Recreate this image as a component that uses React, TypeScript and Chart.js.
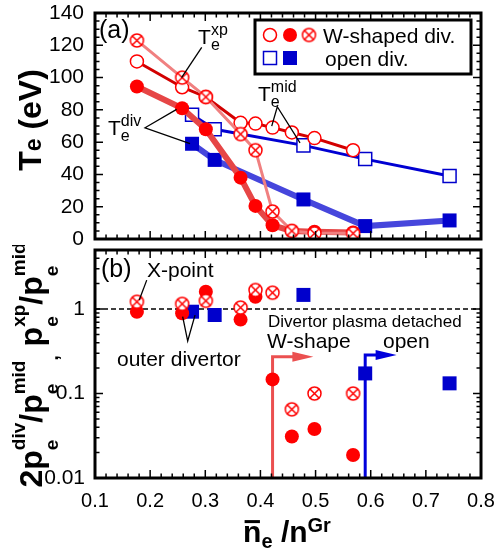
import React, { useEffect, useRef } from 'react';
import { Chart, registerables } from 'chart.js';

Chart.register(...registerables);

// ---------------- data ----------------
const densityW = [0.176, 0.258, 0.301, 0.364, 0.391, 0.422, 0.457, 0.498, 0.568];
const densityOpen = [0.276, 0.317, 0.478, 0.59, 0.743];

const teXpW = [123, 100, 88, 65, 55, 17, 5, 3.5, 3.5];
const teMidW = [110, 94, 88, 72, 71.5, 69, 66, 62.5, 55];
const teDivW = [94.5, 81, 68, 38, 20.5, 8.5, 5, 4.5, 4];
const teMidOpen = [77, 68, 58, 49.5, 39];
const teDivOpen = [59, 49, 24.5, 8, 11.5];

const ratioXpW = [1.22, 1.15, 1.25, 1.04, 1.68, 1.56, 0.065, 0.1, 0.1];
const ratioDivW = [0.93, 0.89, 1.6, 0.75, 1.4, 0.147, 0.031, 0.038, 0.0187];
const ratioDivOpen = [0.93, 0.85, 1.47, 0.173, 0.132];

const xTicks = [0.1, 0.2, 0.3, 0.4, 0.5, 0.6, 0.7, 0.8];
const teTicks = [0, 20, 40, 60, 80, 100, 120, 140];
const ratioTicks = [0.01, 0.1, 1];

const detachW = 0.422;
const detachOpen = 0.59;

// ---------------- helpers ----------------
const FONT = '"Liberation Sans", Arial, Helvetica, sans-serif';
const RED = '#ff0000';
const BLUE = '#0000cc';

const pts = (xs: number[], ys: number[]) => xs.map((x, i) => ({ x, y: ys[i] }));

function makeCrossed(r: number, color: string): HTMLCanvasElement {
  const s = Math.ceil(r * 2 + 4);
  const c = document.createElement('canvas');
  c.width = s;
  c.height = s;
  const g = c.getContext('2d')!;
  const m = s / 2;
  g.fillStyle = '#fff';
  g.strokeStyle = color;
  g.lineWidth = 1.5;
  g.beginPath();
  g.arc(m, m, r, 0, Math.PI * 2);
  g.fill();
  g.stroke();
  const d = r * 0.7;
  g.beginPath();
  g.moveTo(m - d, m - d);
  g.lineTo(m + d, m + d);
  g.moveTo(m + d, m - d);
  g.lineTo(m - d, m + d);
  g.stroke();
  return c;
}

type Part = { t: string; sub?: string; sup?: string; bar?: boolean };
type RichOpt = {
  weight?: string;
  size: number;
  ssize: number;
  subDy: number;
  supDy: number;
  align?: 'left' | 'center';
  rotate?: boolean;
};

function drawRich(ctx: CanvasRenderingContext2D, parts: Part[], x: number, y: number, o: RichOpt) {
  const w = o.weight ? o.weight + ' ' : '';
  const mf = `${w}${o.size}px ${FONT}`;
  const sf = `${w}${o.ssize}px ${FONT}`;
  ctx.save();
  ctx.translate(x, y);
  if (o.rotate) ctx.rotate(-Math.PI / 2);
  ctx.textAlign = 'left';
  ctx.textBaseline = 'alphabetic';
  ctx.fillStyle = '#000';
  const widths: [number, number][] = [];
  let total = 0;
  for (const p of parts) {
    ctx.font = mf;
    const w1 = ctx.measureText(p.t).width;
    ctx.font = sf;
    const w2 = Math.max(p.sub ? ctx.measureText(p.sub).width : 0, p.sup ? ctx.measureText(p.sup).width : 0);
    widths.push([w1, w2]);
    total += w1 + w2;
  }
  let cx = o.align === 'center' ? -total / 2 : 0;
  parts.forEach((p, i) => {
    const [w1, w2] = widths[i];
    ctx.font = mf;
    ctx.fillText(p.t, cx, 0);
    if (p.bar) ctx.fillRect(cx + 1.5, -o.size * 0.72, w1 - 3, 3);
    cx += w1;
    ctx.font = sf;
    if (p.sub) ctx.fillText(p.sub, cx, o.subDy);
    if (p.sup) ctx.fillText(p.sup, cx, o.supDy);
    cx += w2;
  });
  ctx.restore();
}

function drawText(ctx: CanvasRenderingContext2D, text: string, x: number, y: number, size: number, weight = '') {
  ctx.save();
  ctx.font = `${weight ? weight + ' ' : ''}${size}px ${FONT}`;
  ctx.fillStyle = '#000';
  ctx.textAlign = 'left';
  ctx.textBaseline = 'alphabetic';
  ctx.fillText(text, x, y);
  ctx.restore();
}

function polyline(ctx: CanvasRenderingContext2D, p: [number, number][], color = '#000', width = 1.3) {
  ctx.save();
  ctx.strokeStyle = color;
  ctx.lineWidth = width;
  ctx.beginPath();
  p.forEach(([x, y], i) => (i ? ctx.lineTo(x, y) : ctx.moveTo(x, y)));
  ctx.stroke();
  ctx.restore();
}

function drawFrame(
  ctx: CanvasRenderingContext2D,
  a: any,
  xMaj: number[],
  xMin: number[],
  yMaj: number[],
  yMin: number[]
) {
  ctx.save();
  ctx.strokeStyle = '#000';
  ctx.lineWidth = 1.5;
  ctx.beginPath();
  const vt = (p: number, len: number) => {
    ctx.moveTo(p, a.bottom);
    ctx.lineTo(p, a.bottom - len);
    ctx.moveTo(p, a.top);
    ctx.lineTo(p, a.top + len);
  };
  const ht = (p: number, len: number) => {
    ctx.moveTo(a.left, p);
    ctx.lineTo(a.left + len, p);
    ctx.moveTo(a.right, p);
    ctx.lineTo(a.right - len, p);
  };
  xMaj.forEach((p) => vt(p, 8));
  xMin.forEach((p) => vt(p, 4.5));
  yMaj.forEach((p) => ht(p, 8));
  yMin.forEach((p) => ht(p, 4.5));
  ctx.stroke();
  ctx.lineWidth = 3;
  ctx.strokeRect(a.left, a.top, a.right - a.left, a.bottom - a.top);
  ctx.restore();
}

const xMinorVals: number[] = [];
for (let i = 5; i <= 40; i++) xMinorVals.push(i * 0.02);
const teMinorVals: number[] = [];
for (let i = 0; i <= 28; i++) teMinorVals.push(i * 5);
const logMinorVals: number[] = [];
for (const d of [0.01, 0.1, 1]) for (let k = 2; k <= 9; k++) if (d * k <= 5) logMinorVals.push(d * k);

function drawOpenCircle(ctx: CanvasRenderingContext2D, x: number, y: number) {
  ctx.save();
  ctx.beginPath();
  ctx.arc(x, y, 6.5, 0, Math.PI * 2);
  ctx.fillStyle = '#fff';
  ctx.fill();
  ctx.lineWidth = 1.5;
  ctx.strokeStyle = RED;
  ctx.stroke();
  ctx.restore();
}

// ---------------- plugins ----------------
const crossedImg = () => makeCrossed(6.5, RED);

const topDecor = {
  id: 'topDecor',
  afterDatasetsDraw(chart: any) {
    const { ctx, chartArea: a, scales } = chart;
    const X = (v: number) => scales.x.getPixelForValue(v);
    const Y = (v: number) => scales.y.getPixelForValue(v);
    drawFrame(ctx, a, xTicks.map(X), xMinorVals.map(X), teTicks.map(Y), teMinorVals.map(Y));

    // panel label
    drawText(ctx, '(a)', a.left + 4, a.top + 25, 25);

    // callouts
    const rich = { size: 21, ssize: 16, subDy: 6, supDy: -9 };
    drawRich(ctx, [{ t: 'T', sub: 'e', sup: 'xp' }], X(0.287), Y(120.7), rich);
    polyline(ctx, [[X(0.2935), Y(118.7)], [X(0.257), Y(100)]]);

    drawRich(ctx, [{ t: 'T', sub: 'e', sup: 'div' }], X(0.1236), Y(64.7), rich);
    polyline(ctx, [[X(0.248), Y(80.3)], [X(0.1907), Y(68.9)], [X(0.2723), Y(59.1)]]);

    drawRich(ctx, [{ t: 'T', sub: 'e', sup: 'mid' }], X(0.3956), Y(85.25), rich);
    polyline(ctx, [[X(0.4205), Y(69.9)], [X(0.4306), Y(81.95)], [X(0.4718), Y(59.5)]]);

    // y title
    drawRich(ctx, [{ t: 'T', sub: 'e' }, { t: ' (eV)' }], 41, 120, {
      weight: 'bold',
      size: 32,
      ssize: 23,
      subDy: 0,
      supDy: 0,
      align: 'center',
      rotate: true,
    });

    // legend
    const bl = a.right - 226;
    const bt = a.top + 7;
    const bw = 216;
    const bh = 54;
    ctx.save();
    ctx.fillStyle = '#fff';
    ctx.fillRect(bl, bt, bw, bh);
    ctx.lineWidth = 3;
    ctx.strokeStyle = '#000';
    ctx.strokeRect(bl, bt, bw, bh);
    const r1 = bt + 15;
    const r2 = bt + 38;
    drawOpenCircle(ctx, bl + 15, r1);
    ctx.beginPath();
    ctx.arc(bl + 35, r1, 7, 0, Math.PI * 2);
    ctx.fillStyle = RED;
    ctx.fill();
    const ci = crossedImg();
    ctx.drawImage(ci, bl + 54 - ci.width / 2, r1 - ci.height / 2);
    ctx.fillStyle = '#fff';
    ctx.fillRect(bl + 15 - 6.5, r2 - 6.5, 13, 13);
    ctx.lineWidth = 1.5;
    ctx.strokeStyle = BLUE;
    ctx.strokeRect(bl + 15 - 6.5, r2 - 6.5, 13, 13);
    ctx.fillStyle = BLUE;
    ctx.fillRect(bl + 35 - 7, r2 - 7, 14, 14);
    ctx.restore();
    drawText(ctx, 'W-shaped div.', bl + 68, r1 + 8, 21);
    drawText(ctx, 'open div.', bl + 70, r2 + 8, 21);
  },
};

const botUnder = {
  id: 'botUnder',
  beforeDatasetsDraw(chart: any) {
    const { ctx, chartArea: a, scales } = chart;
    const X = (v: number) => scales.x.getPixelForValue(v);
    const Y = (v: number) => scales.y.getPixelForValue(v);
    // dashed line at 1
    ctx.save();
    ctx.setLineDash([5, 3]);
    ctx.lineWidth = 1.5;
    ctx.strokeStyle = '#000';
    ctx.beginPath();
    ctx.moveTo(a.left, Y(1));
    ctx.lineTo(a.right, Y(1));
    ctx.stroke();
    ctx.restore();

    const arrow = (xv: number, yv: number, tipX: number, color: string) => {
      const x0 = X(xv);
      const y0 = Y(yv);
      const tx = X(tipX);
      const hl = 21;
      ctx.save();
      ctx.strokeStyle = color;
      ctx.fillStyle = color;
      ctx.lineWidth = 3;
      ctx.lineJoin = 'miter';
      ctx.beginPath();
      ctx.moveTo(x0, a.bottom);
      ctx.lineTo(x0, y0);
      ctx.lineTo(tx - hl + 1, y0);
      ctx.stroke();
      ctx.beginPath();
      ctx.moveTo(tx, y0);
      ctx.lineTo(tx - hl, y0 - 5);
      ctx.lineTo(tx - hl, y0 + 5);
      ctx.closePath();
      ctx.fill();
      ctx.restore();
    };
    arrow(detachW, 0.273, 0.496, 'rgb(235,80,80)');
    arrow(detachOpen, 0.285, 0.647, 'rgb(0,0,220)');
  },
};

const botDecor = {
  id: 'botDecor',
  afterDatasetsDraw(chart: any) {
    const { ctx, chartArea: a, scales } = chart;
    const X = (v: number) => scales.x.getPixelForValue(v);
    const Y = (v: number) => scales.y.getPixelForValue(v);
    drawFrame(ctx, a, xTicks.map(X), xMinorVals.map(X), ratioTicks.map(Y), logMinorVals.map(Y));

    drawText(ctx, '(b)', a.left + 6, a.top + 27, 25);
    drawText(ctx, 'X-point', X(0.1943), Y(2.39), 21);
    polyline(ctx, [[X(0.1938), Y(2.2)], [X(0.1803), Y(1.278)]]);
    drawText(ctx, 'outer divertor', X(0.1399), Y(0.211), 21);
    polyline(ctx, [[X(0.259), Y(0.811)], [X(0.2681), Y(0.418)], [X(0.2814), Y(0.849)]]);
    drawText(ctx, 'Divertor plasma detached', X(0.4137), Y(0.612), 17);
    drawText(ctx, 'W-shape', X(0.412), Y(0.345), 21);
    drawText(ctx, 'open', X(0.6223), Y(0.345), 21);

    // y title
    drawRich(
      ctx,
      [
        { t: '2p', sub: 'e', sup: 'div' },
        { t: '/p', sub: 'e', sup: 'mid' },
        { t: '', sub: ',' },
        { t: ' p', sub: 'e', sup: 'xp' },
        { t: '/p', sub: 'e', sup: 'mid' },
      ],
      42,
      120,
      { weight: 'bold', size: 32, ssize: 19, subDy: 16, supDy: -17, align: 'center', rotate: true }
    );

    // x title
    drawRich(
      ctx,
      [
        { t: 'n', sub: 'e', bar: true },
        { t: ' /n', sup: 'Gr' },
      ],
      (a.left + a.right) / 2 - 1,
      296.7,
      { weight: 'bold', size: 30, ssize: 20, subDy: 6, supDy: -10, align: 'center' }
    );
  },
};

// ---------------- configs ----------------
function topConfig(): any {
  const cross = crossedImg();
  return {
    type: 'scatter',
    data: {
      datasets: [
        {
          data: pts(densityOpen, teDivOpen),
          showLine: true,
          borderColor: 'rgb(70,70,220)',
          borderWidth: 6,
          pointStyle: 'rect',
          pointRadius: 9.9,
          pointBackgroundColor: BLUE,
          pointBorderColor: BLUE,
          pointBorderWidth: 0,
          order: 5,
        },
        {
          data: pts(densityOpen, teMidOpen),
          showLine: true,
          borderColor: 'rgb(0,0,210)',
          borderWidth: 3,
          pointStyle: 'rect',
          pointRadius: 9.2,
          pointBackgroundColor: '#fff',
          pointBorderColor: BLUE,
          pointBorderWidth: 1.5,
          order: 4,
        },
        {
          data: pts(densityW, teDivW),
          showLine: true,
          borderColor: 'rgb(230,70,70)',
          borderWidth: 6,
          pointStyle: 'circle',
          pointRadius: 7,
          pointBackgroundColor: RED,
          pointBorderColor: RED,
          pointBorderWidth: 0,
          order: 3,
        },
        {
          data: pts(densityW, teMidW),
          showLine: true,
          borderColor: 'rgb(210,0,0)',
          borderWidth: 3,
          pointStyle: 'circle',
          pointRadius: 6.5,
          pointBackgroundColor: '#fff',
          pointBorderColor: RED,
          pointBorderWidth: 1.5,
          order: 2,
        },
        {
          data: pts(densityW, teXpW),
          showLine: true,
          borderColor: 'rgb(240,128,128)',
          borderWidth: 3,
          pointStyle: cross,
          pointRadius: 7,
          order: 1,
        },
      ],
    },
    options: {
      responsive: false,
      animation: false,
      devicePixelRatio: 1,
      events: [],
      layout: { autoPadding: false, padding: { left: 0, right: 16, top: 13, bottom: 6 } },
      plugins: { legend: { display: false }, tooltip: { enabled: false } },
      scales: {
        x: { type: 'linear', min: 0.1, max: 0.8, display: false },
        y: {
          type: 'linear',
          min: 0,
          max: 140,
          afterBuildTicks: (s: any) => {
            s.ticks = teTicks.map((v) => ({ value: v }));
          },
          grid: { display: false, drawTicks: false },
          border: { display: false },
          ticks: { color: '#000', font: { family: FONT, size: 21 }, padding: 11 },
          afterFit: (s: any) => {
            s.width = 95;
            s.paddingTop = 0;
            s.paddingBottom = 0;
          },
        },
      },
    },
    plugins: [topDecor],
  };
}

function botConfig(): any {
  const cross = crossedImg();
  return {
    type: 'scatter',
    data: {
      datasets: [
        {
          data: pts(densityOpen, ratioDivOpen),
          pointStyle: 'rect',
          pointRadius: 9.9,
          pointBackgroundColor: BLUE,
          pointBorderColor: BLUE,
          pointBorderWidth: 0,
          order: 3,
        },
        {
          data: pts(densityW, ratioDivW),
          pointStyle: 'circle',
          pointRadius: 7,
          pointBackgroundColor: RED,
          pointBorderColor: RED,
          pointBorderWidth: 0,
          order: 2,
        },
        {
          data: pts(densityW, ratioXpW),
          pointStyle: cross,
          pointRadius: 7,
          order: 1,
        },
      ],
    },
    options: {
      responsive: false,
      animation: false,
      devicePixelRatio: 1,
      events: [],
      layout: { autoPadding: false, padding: { left: 0, right: 16, top: 5, bottom: 0 } },
      plugins: { legend: { display: false }, tooltip: { enabled: false } },
      scales: {
        x: {
          type: 'linear',
          min: 0.1,
          max: 0.8,
          afterBuildTicks: (s: any) => {
            s.ticks = xTicks.map((v) => ({ value: v }));
          },
          grid: { display: false, drawTicks: false },
          border: { display: false },
          ticks: {
            color: '#000',
            font: { family: FONT, size: 20 },
            padding: 11,
            maxRotation: 0,
            autoSkip: false,
            callback: (v: any) => Number(v).toFixed(1),
          },
          afterFit: (s: any) => {
            s.height = 71;
            s.paddingLeft = 0;
            s.paddingRight = 0;
          },
        },
        y: {
          type: 'logarithmic',
          min: 0.01,
          max: 5,
          afterBuildTicks: (s: any) => {
            s.ticks = ratioTicks.map((v) => ({ value: v }));
          },
          grid: { display: false, drawTicks: false },
          border: { display: false },
          ticks: {
            color: '#000',
            font: { family: FONT, size: 21 },
            padding: 10,
            autoSkip: false,
            callback: (v: any) => String(v),
          },
          afterFit: (s: any) => {
            s.width = 95;
            s.paddingTop = 0;
            s.paddingBottom = 0;
          },
        },
      },
    },
    plugins: [botUnder, botDecor],
  };
}

export default function App() {
  const topRef = useRef<HTMLCanvasElement>(null);
  const botRef = useRef<HTMLCanvasElement>(null);
  useEffect(() => {
    const c1 = new Chart(topRef.current!, topConfig());
    const c2 = new Chart(botRef.current!, botConfig());
    return () => {
      c1.destroy();
      c2.destroy();
    };
  }, []);
  return (
    <div style={{ position: 'absolute', left: 0, top: 0, width: 497, height: 549, background: '#fff' }}>
      <canvas
        ref={topRef}
        width={497}
        height={245}
        style={{ position: 'absolute', left: 0, top: 0, width: 497, height: 245 }}
      />
      <canvas
        ref={botRef}
        width={497}
        height={304}
        style={{ position: 'absolute', left: 0, top: 245, width: 497, height: 304 }}
      />
    </div>
  );
}
